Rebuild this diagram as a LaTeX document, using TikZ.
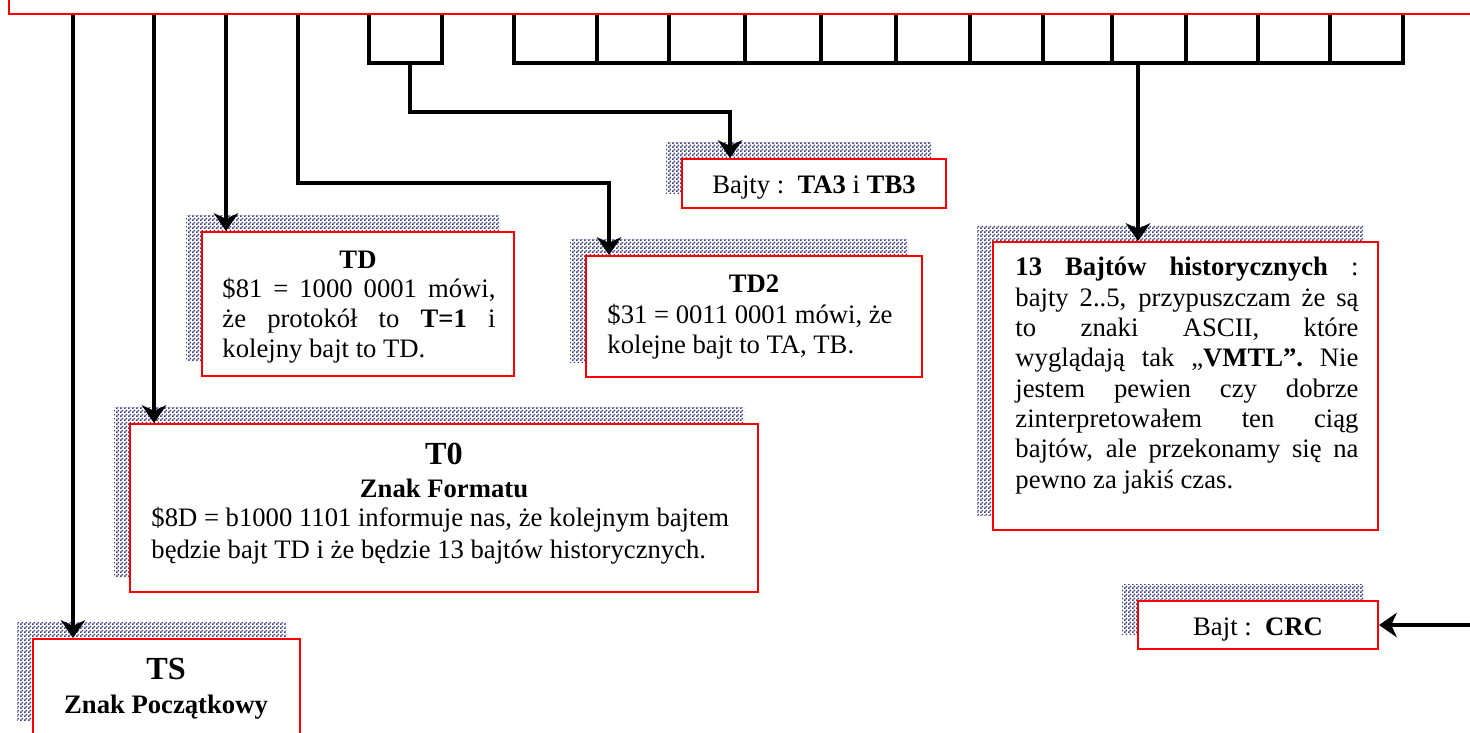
\documentclass[tikz,border=0pt]{standalone}
\usepackage{fontspec}
\setmainfont{Liberation Serif}
\usetikzlibrary{arrows.meta,patterns.meta,fit,backgrounds}
\hyphenpenalty=10000
\exhyphenpenalty=10000
\definecolor{shc}{RGB}{60,60,135}
\definecolor{boxred}{RGB}{255,0,0}
\pgfdeclarepattern{
  name=finechecker,
  type=uncolored,
  bottom left={\pgfpoint{0pt}{0pt}},
  top right={\pgfpoint{1.8pt}{1.8pt}},
  tile size={\pgfpoint{1.8pt}{1.8pt}},
  code={
    \pgfpathrectangle{\pgfpoint{0pt}{0pt}}{\pgfpoint{0.9pt}{0.9pt}}
    \pgfpathrectangle{\pgfpoint{0.9pt}{0.9pt}}{\pgfpoint{0.9pt}{0.9pt}}
    \pgfusepath{fill}
  }
}
\newcommand\boxshadow[1]{\fill[shadowfill] ([shift={(-15,-16)}]#1.south west) rectangle ([shift={(-15,-16)}]#1.north east);}
\tikzset{
  redbox/.style={draw=boxred, line width=0.9pt, fill=white, inner sep=0pt},
  conn/.style={line width=1.4pt, black, line join=miter},
  arr/.style={conn, -{Stealth[length=8pt,width=11pt,inset=2.5pt]}},
  shadowfill/.style={pattern=finechecker, pattern color=shc},
  body/.style={font=\fontsize{12}{13.5}\selectfont, inner sep=0pt},
  ttl/.style={font=\fontsize{12}{14}\selectfont\bfseries, inner sep=0pt},
  bigttl/.style={font=\fontsize{14.5}{16}\selectfont\bfseries, inner sep=0pt},
}
\begin{document}
\begin{tikzpicture}[x=0.45pt, y=-0.45pt]
\useasboundingbox (0,0) rectangle (1470,732);
\clip (0,0) rectangle (1470,732);

% boxes
\node[redbox, fit={(9,-60) (1520,14)}] (atr) {};
\node[redbox, fit={(33,639) (300,735)}] (ts) {};
\node[redbox, fit={(130,424) (758,592)}] (t0) {};
\node[redbox, fit={(202,232) (514,376)}] (td) {};
\node[redbox, fit={(586,256) (922,377)}] (td2) {};
\node[redbox, fit={(682,159) (946,208)}] (ta3) {};
\node[redbox, fit={(993,242) (1378,530)}] (hist) {};
\node[redbox, fit={(1138,601) (1378,649)}] (crc) {};

\begin{scope}[on background layer]
  \boxshadow{ts}
  \boxshadow{t0}
  \boxshadow{td}
  \boxshadow{td2}
  \boxshadow{ta3}
  \boxshadow{hist}
  \boxshadow{crc}
\end{scope}

% texts
\node[bigttl, anchor=base] (tsa) at (166,679) {TS};
\node[ttl, anchor=base] (tsb) at (166,713) {Znak Początkowy};

\node[bigttl, anchor=base] (t0a) at (444,464) {T0};
\node[ttl, anchor=base] (t0b) at (444,497) {Znak Formatu};
\node[body, font=\fontsize{12}{14.4}\selectfont, anchor=north west, align=left] (t0c) at (151,504)
  {\strut\$8D = b1000 1101 informuje nas, że kolejnym bajtem\\będzie bajt TD i że będzie 13 bajtów historycznych.};

\node[ttl, anchor=base] (tda) at (358,268) {TD};
\node[body, anchor=north west, text width=122.85pt, align=justify] (tdb) at (222,276)
  {\strut\$81 = 1000 0001 mówi,\linebreak że protokół to \textbf{T=1} i\linebreak kolejny bajt to TD.};

\node[ttl, anchor=base] (td2a) at (754,292) {TD2};
\node[body, anchor=north west, align=left] (td2b) at (607,302)
  {\strut\$31 = 0011 0001 mówi, że\\kolejne bajt to TA, TB.};

\node[body, anchor=base] (ta3t) at (814,193) {Bajty :\ \ \textbf{TA3} i \textbf{TB3}};

\node[body, font=\fontsize{12}{13.65}\selectfont, anchor=north west, text width=154.35pt, align=justify] (histt) at (1015,254)
  {\strut\textbf{13 Bajtów historycznych} :\linebreak
   bajty 2..5, przypuszczam że są\linebreak
   to znaki ASCII, które\linebreak
   wyglądają tak „\textbf{VMTL”.} Nie\linebreak
   jestem pewien czy dobrze\linebreak
   zinterpretowałem ten ciąg\linebreak
   bajtów, ale przekonamy się na\linebreak
   pewno za jakiś czas.};

\node[body, anchor=base] (crct) at (1258,635) {Bajt :\ \ \textbf{CRC}};

% connectors
\draw[arr] (73,0 |- atr.south) -- (73,0 |- ts.north);
\draw[arr] (154,0 |- atr.south) -- (154,0 |- t0.north);
\draw[arr] (226,0 |- atr.south) -- (226,0 |- td.north);
\draw[arr] (298,0 |- atr.south) -- (298,183) -- (609,183) -- (609,0 |- td2.north);

% bracket TA3/TB3
\draw[conn] (369,0 |- atr.south) -- (369,63) -- (442,63) -- (442,0 |- atr.south);
\draw[arr] (410,63) -- (410,112) -- (730,112) -- (730,0 |- ta3.north);

% bracket historical bytes
\draw[conn] (514,0 |- atr.south) -- (514,63) -- (1403,63) -- (1403,0 |- atr.south);
\foreach \x in {597,669,745,821,896,970,1043,1112,1186,1258,1330}
  \draw[conn] (\x,0 |- atr.south) -- (\x,63);
\draw[arr] (1138,63) -- (1138,0 |- hist.north);

% CRC
\draw[arr] (1490,0 |- crc.east) -- (crc.east);
\end{tikzpicture}
\end{document}
